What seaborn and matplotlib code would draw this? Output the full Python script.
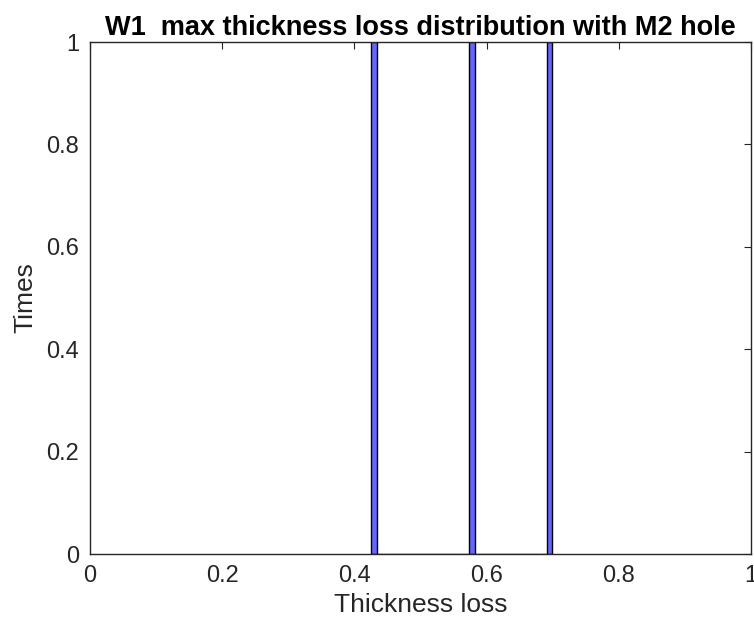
import numpy as np
import pandas as pd
import matplotlib
matplotlib.use("Agg")
import matplotlib.pyplot as plt
import seaborn as sns

# max thickness loss values observed (one occurrence each)
thickness_loss = [0.4297, 0.5783, 0.6950]
bin_width = 0.0085

x_ticks = [0, 0.2, 0.4, 0.6, 0.8, 1]
x_tick_labels = ["0", "0.2", "0.4", "0.6", "0.8", "1"]
y_ticks = [0, 0.2, 0.4, 0.6, 0.8, 1]
y_tick_labels = ["0", "0.2", "0.4", "0.6", "0.8", "1"]

df = pd.DataFrame({"loss": thickness_loss})

sns.set_style("white")
plt.rcParams['font.family'] = ['Liberation Sans', 'DejaVu Sans']

fig = plt.figure(figsize=(7.54, 6.31), dpi=100)
ax = fig.add_axes([0.1194, 0.122, 0.8766, 0.8114])

# narrow bins centred on each value, like the MATLAB histogram
edges = []
for v in thickness_loss:
    edges += [v - bin_width / 2, v + bin_width / 2]
edges = sorted(edges)

sns.histplot(data=df, x="loss", bins=edges, ax=ax,
             color="#0000ff", alpha=0.6, edgecolor="black", linewidth=1.0)

ax.set_xlim(0, 1)
ax.set_ylim(0, 1)
ax.set_xticks(x_ticks)
ax.set_xticklabels(x_tick_labels)
ax.set_yticks(y_ticks)
ax.set_yticklabels(y_tick_labels)

ax.tick_params(direction="in", length=5, width=0.8, colors="#262626",
               labelsize=17, top=True, right=True, pad=8)
for s in ax.spines.values():
    s.set_color("#262626")
    s.set_linewidth(1.0)
    s.set_visible(True)

ax.set_xlabel("Thickness loss", fontsize=19, color="#262626", labelpad=4)
ax.set_ylabel("Times", fontsize=19, color="#262626", labelpad=6)
ax.set_title("W1  max thickness loss distribution with M2 hole",
             fontsize=19.5, fontweight="bold", pad=5, color="black")

plt.savefig("out.png", dpi=100)
